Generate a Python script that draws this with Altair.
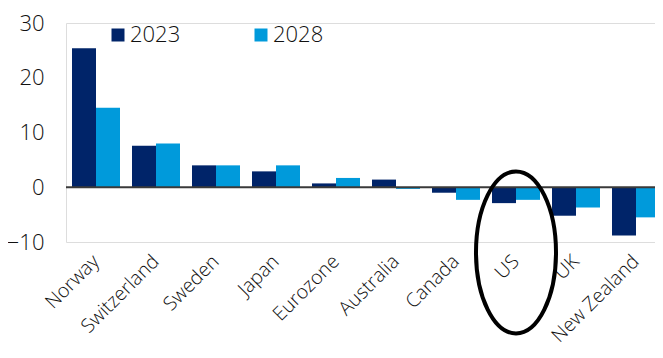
import altair as alt
import pandas as pd

countries = ["Norway", "Switzerland", "Sweden", "Japan", "Eurozone",
             "Australia", "Canada", "US", "UK", "New Zealand"]
values_2023 = [25.4, 7.6, 4.0, 2.9, 0.7, 1.4, -1.0, -2.9, -5.2, -8.8]
values_2028 = [14.5, 8.0, 4.0, 4.0, 1.7, -0.3, -2.3, -2.3, -3.7, -5.5]
series = ["2023", "2028"]
y_ticks = [-10, 0, 10, 20, 30]

# highlight annotation (ellipse round the US)
highlight_x = ["US"]
highlight_y = [-11.9]

rows = []
for c, a, b in zip(countries, values_2023, values_2028):
    rows.append({"country": c, "year": "2023", "value": a})
    rows.append({"country": c, "year": "2028", "value": b})
df = pd.DataFrame(rows)

FONT = "Open Sans"
WEIGHT = 300
TXT = "#111111"

x_scale = alt.Scale(paddingInner=0.2, paddingOuter=0.1, range=[0, 600])
x_enc = alt.X("country:N", sort=countries, scale=x_scale,
              axis=alt.Axis(title=None, labelAngle=-45, labelAlign="right",
                            labelBaseline="middle", labelFontSize=19.5,
                            labelFont=FONT, labelFontWeight=WEIGHT,
                            labelColor=TXT, ticks=False,
                            domain=False, labelPadding=16, labelBound=False,
                            labelOverlap=False))
y_scale = alt.Scale(domain=[-10, 30], nice=False, zero=False)

bars = alt.Chart(df).mark_bar().encode(
    x=x_enc,
    xOffset=alt.XOffset("year:N", sort=series,
                        scale=alt.Scale(paddingInner=0, paddingOuter=0)),
    y=alt.Y("value:Q", scale=y_scale,
            axis=alt.Axis(title=None, values=y_ticks, grid=False, ticks=False,
                          domain=False, labelFontSize=22, labelFont=FONT,
                          labelFontWeight=WEIGHT,
                          labelColor=TXT, labelPadding=22)),
    color=alt.Color("year:N", sort=series,
                    scale=alt.Scale(domain=series, range=["#002469", "#009ADB"]),
                    legend=alt.Legend(title=None, orient="none", direction="horizontal",
                                      legendX=41, legendY=1, symbolType="square",
                                      symbolSize=169, symbolStrokeWidth=0,
                                      labelFontSize=22, labelFont=FONT,
                                      labelFontWeight=WEIGHT,
                                      labelColor=TXT, labelOffset=1,
                                      columnPadding=69, padding=0)),
)

zero = alt.Chart(pd.DataFrame({"y": [0]})).mark_rule(
    color="#3a3a3a", strokeWidth=2).encode(y=alt.Y("y:Q", scale=y_scale))

a = 0.494
k = 0.5523
ellipse_path = (f"M 0 -1 C {k*a:.4f} -1 {a} {-k:.4f} {a} 0 "
                f"C {a} {k:.4f} {k*a:.4f} 1 0 1 "
                f"C {-k*a:.4f} 1 {-a} {k:.4f} {-a} 0 "
                f"C {-a} {-k:.4f} {-k*a:.4f} -1 0 -1 Z")

ring = alt.Chart(pd.DataFrame({"country": highlight_x, "y": highlight_y})).mark_point(
    shape=ellipse_path, size=26244, filled=False, stroke="black",
    strokeWidth=4, opacity=1).encode(
    x=alt.X("country:N", sort=countries, scale=x_scale),
    y=alt.Y("y:Q", scale=y_scale))

chart = alt.layer(bars, zero, ring).properties(
    width=589, height=219,
    autosize=alt.AutoSizeParams(type="none"),
    padding={"left": 58, "top": 15, "right": 0, "bottom": 108},
).configure_view(stroke=None).configure(background="white")

chart.save("out.html", embed_options={"renderer": "svg", "actions": False})
